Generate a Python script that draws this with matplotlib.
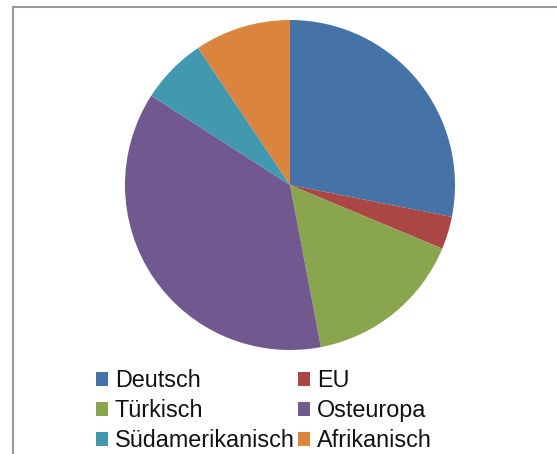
import matplotlib
matplotlib.use("Agg")
import matplotlib.pyplot as plt
from matplotlib.patches import Patch
from matplotlib.lines import Line2D

categories = ["Deutsch", "EU", "Türkisch", "Osteuropa", "Südamerikanisch", "Afrikanisch"]
values = [28.1, 3.2, 15.7, 37.1, 6.5, 9.4]
colors = ["#4572A7", "#AA4643", "#89A54E", "#71588F", "#4198AF", "#DB843D"]

plt.rcParams['font.family'] = ['Liberation Sans', 'DejaVu Sans']

W, H = 557, 454
fig = plt.figure(figsize=(W / 100, H / 100), dpi=100)
fig.patch.set_facecolor("white")

cx, cy, r = 290, 185, 165
ax = fig.add_axes([(cx - r) / W, 1 - (cy + r) / H, 2 * r / W, 2 * r / H])
ax.pie(values, colors=colors, startangle=90, counterclock=False,
       wedgeprops=dict(linewidth=0))
ax.set_xlim(-1, 1)
ax.set_ylim(-1, 1)
ax.set_aspect("equal")
ax.axis("off")

# frame lines (top and left)
fig.add_artist(Line2D([13 / W, 1], [1 - 7 / H, 1 - 7 / H], color="#9a9a9a", lw=1.5))
fig.add_artist(Line2D([13 / W, 13 / W], [0, 1 - 7 / H], color="#9a9a9a", lw=1.5))

handles = [Patch(facecolor=c, edgecolor="none") for c in colors]
order = [0, 2, 4, 1, 3, 5]
leg = fig.legend([handles[i] for i in order], [categories[i] for i in order],
                 ncol=2, loc="upper left", bbox_to_anchor=(96 / W, 1 - 369 / H),
                 frameon=False, fontsize=16.8, handlelength=0.52, handleheight=0.52,
                 handletextpad=0.28, columnspacing=0.15, labelspacing=0.3,
                 borderpad=0, borderaxespad=0)
for t in leg.get_texts():
    t.set_color("#111111")

fig.savefig("out.png", dpi=100, facecolor="white")
